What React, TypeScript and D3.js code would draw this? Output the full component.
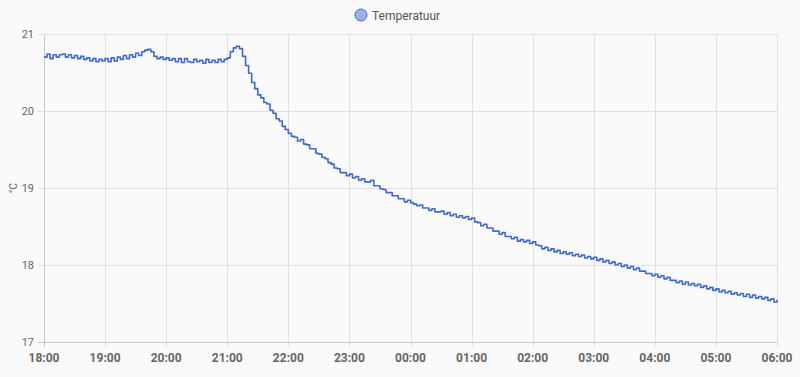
import React, { useEffect, useRef } from "react";
import * as d3 from "d3";

// Temperature readings every 3 minutes from 18:00 to 06:00 (°C)
const h18 = [20.70, 20.74, 20.68, 20.73, 20.70, 20.73, 20.74, 20.70, 20.73, 20.69, 20.72, 20.68, 20.71, 20.67, 20.69, 20.65, 20.68, 20.64, 20.67, 20.65];
const h19 = [20.68, 20.64, 20.69, 20.65, 20.70, 20.67, 20.72, 20.68, 20.73, 20.70, 20.75, 20.72, 20.77, 20.79, 20.80, 20.77, 20.71, 20.68, 20.70, 20.67];
const h20 = [20.69, 20.66, 20.68, 20.64, 20.68, 20.63, 20.68, 20.64, 20.63, 20.67, 20.64, 20.66, 20.62, 20.67, 20.63, 20.66, 20.63, 20.67, 20.64, 20.67];
const h21 = [20.69, 20.77, 20.82, 20.84, 20.81, 20.71, 20.59, 20.49, 20.37, 20.29, 20.21, 20.17, 20.11, 20.09, 20.01, 19.97, 19.90, 19.87, 19.80, 19.76];
const h22 = [19.71, 19.67, 19.66, 19.61, 19.63, 19.57, 19.56, 19.51, 19.51, 19.45, 19.44, 19.40, 19.38, 19.33, 19.31, 19.26, 19.25, 19.20, 19.20, 19.16];
const h23 = [19.18, 19.13, 19.15, 19.10, 19.12, 19.08, 19.08, 19.10, 19.03, 19.03, 18.99, 18.98, 18.94, 18.94, 18.90, 18.90, 18.86, 18.86, 18.82, 18.84];
const h00 = [18.81, 18.79, 18.77, 18.78, 18.74, 18.74, 18.71, 18.73, 18.69, 18.69, 18.70, 18.66, 18.68, 18.64, 18.66, 18.62, 18.64, 18.61, 18.63, 18.59];
const h01 = [18.61, 18.56, 18.55, 18.51, 18.53, 18.48, 18.48, 18.44, 18.44, 18.40, 18.42, 18.37, 18.37, 18.34, 18.36, 18.31, 18.33, 18.30, 18.32, 18.28];
const h02 = [18.30, 18.26, 18.25, 18.21, 18.23, 18.19, 18.21, 18.17, 18.19, 18.15, 18.17, 18.14, 18.16, 18.12, 18.14, 18.11, 18.13, 18.09, 18.11, 18.08];
const h03 = [18.10, 18.06, 18.08, 18.04, 18.06, 18.02, 18.04, 18.00, 18.02, 17.98, 18.00, 17.96, 17.98, 17.94, 17.96, 17.92, 17.92, 17.89, 17.89, 17.86];
const h04 = [17.88, 17.84, 17.86, 17.82, 17.84, 17.80, 17.80, 17.77, 17.79, 17.75, 17.78, 17.74, 17.76, 17.73, 17.75, 17.71, 17.73, 17.69, 17.71, 17.67];
const h05 = [17.69, 17.65, 17.67, 17.64, 17.66, 17.62, 17.64, 17.61, 17.63, 17.59, 17.62, 17.58, 17.61, 17.57, 17.59, 17.56, 17.58, 17.54, 17.56, 17.52];
const h06 = [17.55];

const tempValues = [...h18, ...h19, ...h20, ...h21, ...h22, ...h23, ...h00, ...h01, ...h02, ...h03, ...h04, ...h05, ...h06];
const stepMinutes = 3;
const yTicks = [17, 18, 19, 20, 21];
const xTickLabels = ["18:00", "19:00", "20:00", "21:00", "22:00", "23:00", "00:00", "01:00", "02:00", "03:00", "04:00", "05:00", "06:00"];
const seriesName = "Temperatuur";
const unit = "°C";

const W = 800;
const H = 377;
const margin = { left: 44, right: 23, top: 34, bottom: 35 };
const lineColor = "#3f69cf";
const font = "Roboto, 'Noto Sans', sans-serif";

export default function App() {
  const ref = useRef<SVGSVGElement>(null);

  useEffect(() => {
    const svg = d3.select(ref.current);
    svg.selectAll("*").remove();

    const start = new Date(2024, 0, 1, 18, 0, 0);
    const data = tempValues.map((v, i) => ({ t: new Date(start.getTime() + i * stepMinutes * 60000), v }));
    const end = new Date(start.getTime() + 12 * 3600000);

    const x = d3.scaleTime().domain([start, end]).range([margin.left, W - margin.right]);
    const y = d3.scaleLinear().domain([17, 21]).range([H - margin.bottom, margin.top]);

    svg.append("rect").attr("width", W).attr("height", H).attr("fill", "#fafafa");

    const tickTimes = xTickLabels.map((_, i) => new Date(start.getTime() + i * 3600000));

    // grid
    const g = svg.append("g");
    g.selectAll("line.v")
      .data(tickTimes)
      .join("line")
      .attr("x1", (d) => Math.round(x(d)) + 0.5)
      .attr("x2", (d) => Math.round(x(d)) + 0.5)
      .attr("y1", margin.top)
      .attr("y2", H - margin.bottom + 5)
      .attr("stroke", (d, i) => (i === 0 ? "#c8c8c8" : "#e0e0e0"))
      .attr("stroke-width", 1);
    g.selectAll("line.h")
      .data(yTicks)
      .join("line")
      .attr("x1", margin.left - 6)
      .attr("x2", W - margin.right)
      .attr("y1", (d) => Math.round(y(d)) + 0.5)
      .attr("y2", (d) => Math.round(y(d)) + 0.5)
      .attr("stroke", (d, i) => (i === 0 ? "#c8c8c8" : "#e0e0e0"))
      .attr("stroke-width", 1);

    // y labels
    svg.selectAll("text.yl")
      .data(yTicks)
      .join("text")
      .attr("x", margin.left - 10)
      .attr("y", (d) => y(d) + 4)
      .attr("text-anchor", "end")
      .attr("font-family", font)
      .attr("font-size", 11)
      .attr("fill", "#666")
      .text((d) => String(d));

    // y axis title
    svg.append("text")
      .attr("transform", `translate(17, ${(margin.top + H - margin.bottom) / 2}) rotate(-90)`)
      .attr("text-anchor", "middle")
      .attr("font-family", font)
      .attr("font-size", 10)
      .attr("fill", "#666")
      .text(unit);

    // x labels
    svg.selectAll("text.xl")
      .data(tickTimes)
      .join("text")
      .attr("x", (d) => x(d))
      .attr("y", H - margin.bottom + 20)
      .attr("text-anchor", "middle")
      .attr("font-family", font)
      .attr("font-size", 12)
      .attr("font-weight", "bold")
      .attr("fill", "#666")
      .text((d, i) => xTickLabels[i]);

    // line
    const line = d3
      .line<{ t: Date; v: number }>()
      .x((d) => x(d.t))
      .y((d) => y(d.v))
      .curve(d3.curveStepAfter);
    svg.append("path")
      .datum(data)
      .attr("d", line)
      .attr("fill", "none")
      .attr("stroke", lineColor)
      .attr("stroke-width", 1.6)
      .attr("stroke-linejoin", "round");

    // legend
    const lg = svg.append("g");
    lg.append("circle")
      .attr("cx", 361)
      .attr("cy", 15)
      .attr("r", 6)
      .attr("fill", "#9db1e6")
      .attr("stroke", lineColor)
      .attr("stroke-width", 1);
    lg.append("text")
      .attr("x", 372)
      .attr("y", 19.5)
      .attr("font-family", font)
      .attr("font-size", 12)
      .attr("fill", "#555")
      .text(seriesName);
  }, []);

  return (
    <div style={{ position: "fixed", left: 0, top: 0 }}>
      <svg ref={ref} width={W} height={H} style={{ display: "block" }} />
    </div>
  );
}
